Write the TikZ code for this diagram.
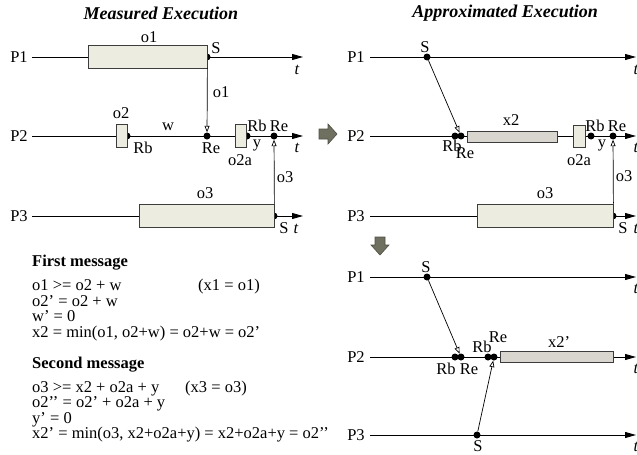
\documentclass[tikz,border=0pt]{standalone}
\usepackage{fontspec}
\setmainfont{Liberation Serif}
\usetikzlibrary{arrows.meta}
\definecolor{boxA}{RGB}{236,236,224}
\definecolor{boxB}{RGB}{216,214,206}
\definecolor{boxline}{RGB}{60,60,60}
\definecolor{bigarrow}{RGB}{112,112,96}
\begin{document}
\begin{tikzpicture}[x=1pt,y=-1pt,
  every node/.style={font=\fontsize{16.5}{16.5}\selectfont, inner sep=0pt},
  tl/.style={line width=0.9pt,-{Triangle[length=11pt,width=6pt]}},
  msg/.style={line width=0.7pt,-{Triangle[open,length=6.5pt,width=5pt,fill=white]}},
  dot/.style={circle,fill=black,inner sep=0pt,minimum size=7pt},
  evbox/.style={draw=boxline,line width=0.8pt,fill=boxA,inner sep=0pt},
  apbox/.style={draw=boxline,line width=0.8pt,fill=boxB,inner sep=0pt},
  tlab/.style={font=\fontsize{16.5}{16.5}\selectfont\itshape},
  ttl/.style={font=\fontsize{18}{18}\selectfont\bfseries\itshape},
  hdr/.style={font=\fontsize{16.5}{16.5}\selectfont\bfseries,anchor=base west},
  eq/.style={anchor=base west},
  bigarr/.style={fill=bigarrow,draw=bigarrow!70!black,line width=0.6pt}]
\useasboundingbox (0,0) rectangle (637,455);

% ---------------- Left: measured execution ----------------
\node[ttl] (titleL) at (161,13) {Measured Execution};
\node (LP1) at (19,57) {P1};
\node (LP2) at (19,136) {P2};
\node (LP3) at (19,216) {P3};
\coordinate (l1s) at (32,57);  \coordinate (l1e) at (303,57);
\coordinate (l2s) at (32,136); \coordinate (l2e) at (303,136);
\coordinate (l3s) at (32,216); \coordinate (l3e) at (303,216);
\draw[tl] (l1s) -- (l1e);
\draw[tl] (l2s) -- (l2e);
\draw[tl] (l3s) -- (l3e);

\node[dot] (LS1) at (207,57) {};
\node[dot] (LRb1) at (127,136) {};
\node[dot] (LRe1) at (207,136) {};
\node[dot] (LRb2) at (247,136) {};
\node[dot] (LRe2) at (274,136) {};
\node[dot] (LS3) at (274,216) {};

\node[evbox,minimum width=119pt,minimum height=23pt] (o1b) at (147.5,56.5) {};
\node[evbox,minimum width=11pt,minimum height=23pt] (o2b) at (121.5,135.5) {};
\node[evbox,minimum width=11pt,minimum height=23pt] (o2ab) at (240.5,135.5) {};
\node[evbox,minimum width=135pt,minimum height=23pt] (o3b) at (206.5,215.5) {};

\draw[msg] (o1b.south east) -- (LRe1);
\draw[msg] (o3b.north east) -- (LRe2);

\node (Lo1) at (149,37) {o1};
\node (LSl) at (216,48) {S};
\node[tlab] (Lt1) at (297,70) {t};
\node (Lo1m) at (221,92) {o1};
\node (Lo2) at (121,113) {o2};
\node (LRbl) at (143,148) {Rb};
\node (Lw) at (168,127) {w};
\node (LRel) at (211,148) {Re};
\node (Lo2a) at (240,160) {o2a};
\node (LRb2l) at (257,126) {Rb};
\node (Ly) at (257,145) {y};
\node (LRe2l) at (279,126) {Re};
\node[tlab] (Lt2) at (297,148) {t};
\node (Lo3m) at (285,177) {o3};
\node (Lo3) at (205,193) {o3};
\node (LS3l) at (284,228) {S};
\node[tlab] (Lt3) at (296,229) {t};

% text block
\node[hdr] (fm) at (32,266) {First message};
\node[eq] (e1) at (32,290.5) {o1 >= o2 + w};
\node[eq] (e1b) at (198,290.5) {(x1 = o1)};
\node[eq] (e2) at (32,306) {o2’ = o2 + w};
\node[eq] (e3) at (32,321.5) {w’ = 0};
\node[eq] (e4) at (32,337) {x2 = min(o1, o2+w) = o2+w = o2’};
\node[hdr] (sm) at (32,368) {Second message};
\node[eq] (f1) at (32,392) {o3 >= x2 + o2a + y};
\node[eq] (f1b) at (185,392) {(x3 = o3)};
\node[eq] (f2) at (32,407.5) {o2’’ = o2’ + o2a + y};
\node[eq] (f3) at (32,423) {y’ = 0};
\node[eq] (f4) at (32,438.5) {x2’ = min(o3, x2+o2a+y) = x2+o2a+y = o2’’};

% big arrows
\draw[bigarr] (319,129) -- (328,129) -- (328,124) -- (337,134) -- (328,144) -- (328,139) -- (319,139) -- cycle;
\draw[bigarr] (375,237) -- (385,237) -- (385,245) -- (389,245) -- (380,255) -- (371,245) -- (375,245) -- cycle;

% ---------------- Right top: approximated ----------------
\node[ttl] (titleR) at (505,13) {Approximated Execution};
\node (RP1) at (356,57) {P1};
\node (RP2) at (356,136) {P2};
\node (RP3) at (356,216) {P3};
\coordinate (r1s) at (370,57);  \coordinate (r1e) at (636,57);
\coordinate (r2s) at (370,136); \coordinate (r2e) at (636,136);
\coordinate (r3s) at (370,216); \coordinate (r3e) at (636,216);
\draw[tl] (r1s) -- (r1e);
\draw[tl] (r2s) -- (r2e);
\draw[tl] (r3s) -- (r3e);

\node[dot] (RS1) at (427,57) {};
\node[dot] (RRb1) at (455,136) {};
\node[dot] (RRe1) at (461,136) {};
\node[dot] (RRb2) at (591,136) {};
\node[dot] (RRe2) at (613,136) {};
\node[dot] (RS3) at (613,216) {};

\node[apbox,minimum width=90pt,minimum height=11pt] (x2b) at (512,136.5) {};
\node[evbox,minimum width=12pt,minimum height=22pt] (Ro2ab) at (579,136) {};
\node[evbox,minimum width=136pt,minimum height=23pt] (Ro3b) at (545,215.5) {};

\draw[msg] (RS1) -- (RRe1);
\draw[msg] (Ro3b.north east) -- (RRe2);

\node (RSl) at (425,47) {S};
\node[tlab] (Rt1) at (636,70) {t};
\node (RRbl) at (452,146) {Rb};
\node (RRel) at (465,153) {Re};
\node (Rx2) at (511,120) {x2};
\node (Ro2a) at (579,160) {o2a};
\node (RRb2l) at (595,126) {Rb};
\node (Ry) at (602,145) {y};
\node (RRe2l) at (617,126) {Re};
\node[tlab] (Rt2) at (636,148) {t};
\node (Ro3m) at (624,176) {o3};
\node (Ro3) at (545,193) {o3};
\node (RS3l) at (623,228) {S};
\node[tlab] (Rt3) at (636,229) {t};

% ---------------- Right bottom ----------------
\node (BP1) at (356,277) {P1};
\node (BP2) at (356,357) {P2};
\node (BP3) at (356,435) {P3};
\coordinate (b1s) at (370,277); \coordinate (b1e) at (636,277);
\coordinate (b2s) at (370,357); \coordinate (b2e) at (636,357);
\coordinate (b3s) at (370,435); \coordinate (b3e) at (636,435);
\draw[tl] (b1s) -- (b1e);
\draw[tl] (b2s) -- (b2e);
\draw[tl] (b3s) -- (b3e);

\node[dot] (BS1) at (427,277) {};
\node[dot] (BRb1) at (455,357) {};
\node[dot] (BRe1) at (461,357) {};
\node[dot] (BRb2) at (488,357) {};
\node[dot] (BRe2) at (494,357) {};
\node[dot] (BS3) at (477,435) {};

\node[apbox,minimum width=113pt,minimum height=11pt] (x2pb) at (556.5,356.5) {};

\draw[msg] (BS1) -- (BRe1);
\draw[msg] (BS3) -- (BRe2);

\node (BSl) at (426,267) {S};
\node[tlab] (Bt1) at (636,289) {t};
\node (BRbl) at (446,369) {Rb};
\node (BRel) at (469,369) {Re};
\node (BRb2l) at (482,347) {Rb};
\node (BRe2l) at (498,337) {Re};
\node (Bx2p) at (559,342) {x2’};
\node[tlab] (Bt2) at (636,369) {t};
\node (BS3l) at (478,446) {S};
\node[tlab] (Bt3) at (636,447) {t};
\end{tikzpicture}
\end{document}
